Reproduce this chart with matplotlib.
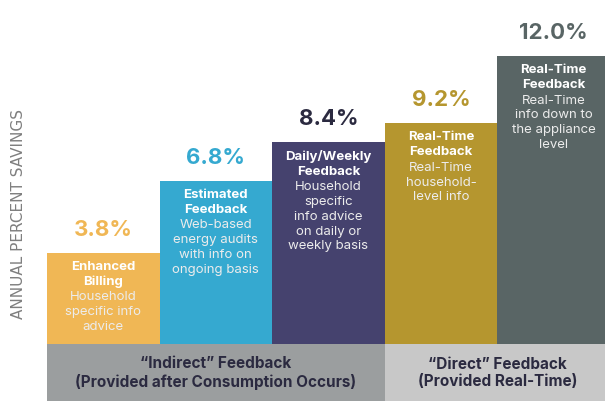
import matplotlib.pyplot as plt
from matplotlib.patches import Rectangle

# data
titles = ['Enhanced\nBilling', 'Estimated\nFeedback', 'Daily/Weekly\nFeedback',
          'Real-Time\nFeedback', 'Real-Time\nFeedback']
descs = ['Household\nspecific info\nadvice',
         'Web-based\nenergy audits\nwith info on\nongoing basis',
         'Household\nspecific\ninfo advice\non daily or\nweekly basis',
         'Real-Time\nhousehold-\nlevel info',
         'Real-Time\ninfo down to\nthe appliance\nlevel']
savings = [3.8, 6.8, 8.4, 9.2, 12.0]
labels = ['3.8%', '6.8%', '8.4%', '9.2%', '12.0%']
groups = ['\u201cIndirect\u201d Feedback\n(Provided after Consumption Occurs)',
          '\u201cDirect\u201d Feedback\n(Provided Real-Time)']
group_spans = [(-0.5, 2.5), (2.5, 4.5)]

bar_colors = ['#F0B755', '#35A9D0', '#45426E', '#B5962F', '#596565']
label_colors = ['#F0B755', '#35A9D0', '#2B2A40', '#B5962F', '#596565']
group_colors = ['#9B9E9F', '#C8C8C8']
navy = '#2B2A40'

plt.rcParams['font.family'] = ['Inter', 'DejaVu Sans']

fig = plt.figure(figsize=(6.05, 4.02), dpi=100)
ax = fig.add_axes([0, 0, 1, 1])
ax.set_xlim(-0.917, 4.456)
ax.set_ylim(-2.375, 14.375)
ax.axis('off')

x = list(range(len(savings)))
ax.bar(x, savings, width=1.0, color=bar_colors, linewidth=0)

fs = 9.5
line_pt = 11.0  # ~15 px between lines
for i, v in enumerate(savings):
    ax.text(i, v + 1.0, labels[i], ha='center', va='center',
            fontsize=16, fontweight='bold', color=label_colors[i])
    ax.annotate(titles[i], (i, v), xytext=(0, -5), textcoords='offset points',
                ha='center', va='top', fontsize=fs, fontweight='bold',
                color='white', linespacing=1.32)
    nt = titles[i].count('\n') + 1
    ax.annotate(descs[i], (i, v), xytext=(0, -5 - nt * line_pt),
                textcoords='offset points', ha='center', va='top',
                fontsize=fs, color='#ECECEC', linespacing=1.32)

for (x0, x1), g, c in zip(group_spans, groups, group_colors):
    ax.add_patch(Rectangle((x0, -2.375), x1 - x0, 2.375, color=c, linewidth=0))
    ax.text((x0 + x1) / 2, -1.17, g, ha='center', va='center', fontsize=11,
            fontweight='bold', color=navy, linespacing=1.2)

fig.text(0.03, 0.467, 'ANNUAL PERCENT SAVINGS', rotation=90, ha='center',
         va='center', fontsize=11, color='#7F7F7F',
         family=['Liberation Sans Narrow', 'DejaVu Sans'])

fig.savefig('out.png', dpi=100)
